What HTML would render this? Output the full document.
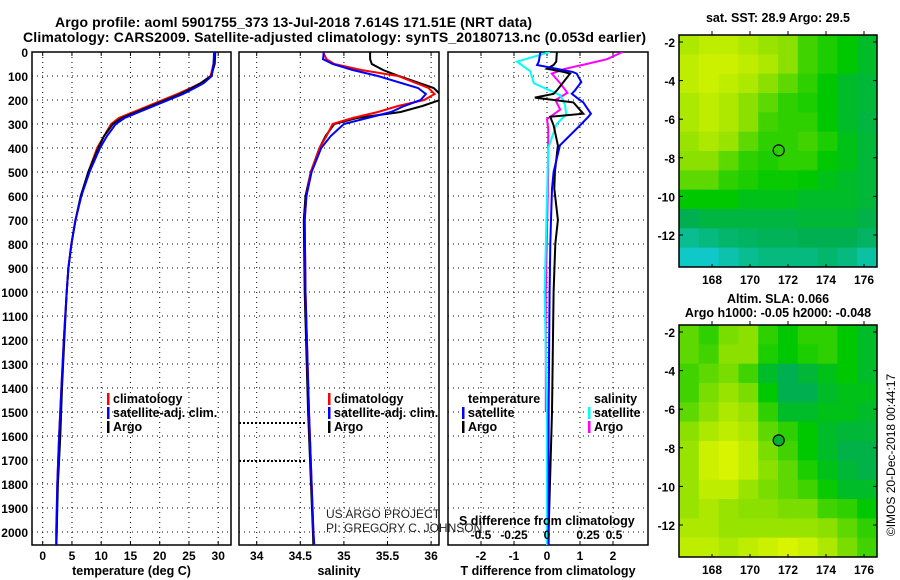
<!DOCTYPE html>
<html><head><meta charset="utf-8">
<style>
html,body{margin:0;padding:0;background:#fff;}
svg{display:block;font-family:"Liberation Sans",sans-serif;}
.b{font-weight:bold;}
</style></head>
<body>
<svg id="fig" width="900" height="580" viewBox="0 0 900 580">
<rect width="900" height="580" fill="#fff"/>
<text x="55" y="27" class="b" font-size="14" textLength="477">Argo profile: aoml 5901755_373 13-Jul-2018 7.614S 171.51E (NRT data)</text>
<text x="23" y="42" class="b" font-size="14" textLength="623">Climatology: CARS2009. Satellite-adjusted climatology: synTS_20180713.nc (0.053d earlier)</text>
<g id="p1"></g>
<g id="p2"></g>
<g id="p3"></g>
<g id="m1"></g>
<g id="m2"></g>
<text x="778" y="22" class="b" font-size="12.5" text-anchor="middle">sat. SST: 28.9 Argo: 29.5</text>
<text x="778" y="303" class="b" font-size="12.5" text-anchor="middle">Altim. SLA: 0.066</text>
<text x="778" y="317" class="b" font-size="12.5" text-anchor="middle">Argo h1000: -0.05 h2000: -0.048</text>
<text transform="translate(895,455) rotate(-90)" font-size="12" text-anchor="middle">©IMOS 20-Dec-2018 00:44:17</text>
<text x="326" y="518" font-size="12" fill="#222">US ARGO PROJECT</text>
<text x="326" y="532" font-size="12" fill="#222">PI: GREGORY C. JOHNSON</text>
</svg>
<script>
// ---------- data ----------
const depthT = [0,50,100,130,150,175,200,225,250,275,300,350,400,500,600,700,800,900,1000,1200,1400,1600,1800,2000,2060];
const tempArgo = [29.5,29.4,28.8,27,25.5,23.5,21,18.5,16,13.5,12,10.5,9.5,7.8,6.5,5.6,4.9,4.4,4.1,3.7,3.3,3.0,2.6,2.4,2.35];
const tempClim = [29.4,29.2,28.7,27,25.3,23,20.5,18,15.5,13,11.7,10.5,9.3,7.8,6.6,5.6,4.9,4.4,4.1,3.6,3.2,2.8,2.5,2.4,2.3];
const tempSat  = [29.3,29.2,28.9,27.5,26,24,21.5,19,16.5,14,12.5,11,9.8,8,6.6,5.6,4.9,4.4,4.1,3.6,3.2,2.8,2.5,2.3,2.3];
const depthS = [0,30,50,75,100,150,175,200,225,250,275,300,350,400,500,600,700,1000,1500,2000,2060];
const salArgo = [35.30,35.30,35.32,35.45,35.63,36.03,36.1,36.1,35.9,35.65,35.15,34.89,34.79,34.72,34.62,34.56,34.54,34.55,34.59,34.645,34.65];
const salClim = [34.76,34.8,34.89,35.2,35.62,35.97,36.04,35.92,35.62,35.39,35.1,34.87,34.8,34.72,34.62,34.57,34.55,34.56,34.6,34.65,34.66];
const salSat  = [34.77,34.76,34.87,35.1,35.39,35.85,35.94,35.88,35.69,35.54,35.27,35.0,34.85,34.74,34.63,34.57,34.55,34.56,34.6,34.65,34.66];
const depthD = [0,40,54,70,83,90,125,160,174,190,210,257,270,306,389,500,569,700,800,1000,1500,2000,2060];
const dTsat  = [-0.2,-0.25,-0.3,0.3,0.78,0.9,1.04,0.85,0.75,0.9,1.1,1.33,1.25,1.0,0.39,0.2,0.15,0.12,0.1,0.08,0.05,0.05,0.05];
const dTargo = [0.3,0.28,0.2,0.0,0.5,0.7,0.5,0.3,0.2,-0.37,0.8,1.1,0.1,0.2,0.33,0.24,0.22,0.33,0.25,0.2,0.15,0.05,0.05];
const depthDS = [0,40,80,130,180,220,260,300,400,600,1000,1500,2000,2060];
const dSsat  = [0.025,-0.25,-0.14,-0.11,0.11,0.15,0.16,0.08,0.01,0,-0.02,0.0,0.0,0.0];
const depthDM = [0,30,50,70,90,130,170,200,240,280,320,500,1000,1500];
const dSargo = [0.63,0.5,0.33,0.15,0.04,0.11,0.17,0.07,0.11,0,0.01,0.01,-0.01,-0.01];
const depthTicks = [0,100,200,300,400,500,600,700,800,900,1000,1100,1200,1300,1400,1500,1600,1700,1800,1900,2000];
const tTicks = [0,5,10,15,20,25,30];
const sTicks = [34,34.5,35,35.5,36];
const dTTicks = [-2,-1,0,1,2];
const dSTicks = ["-0.5","-0.25","0","0.25","0.5"];
const latTicks = [-2,-4,-6,-8,-10,-12];
const lonTicks = [168,170,172,174,176];
const sstGrid = [
[0.75,0.78,0.78,0.75,0.72,0.70,0.62,0.58,0.55,0.50],
[0.78,0.80,0.80,0.78,0.75,0.70,0.62,0.58,0.55,0.50],
[0.78,0.80,0.78,0.75,0.70,0.65,0.60,0.55,0.50,0.48],
[0.75,0.78,0.75,0.70,0.65,0.60,0.58,0.55,0.50,0.48],
[0.75,0.78,0.75,0.70,0.62,0.60,0.60,0.55,0.50,0.47],
[0.72,0.75,0.72,0.65,0.60,0.60,0.62,0.58,0.52,0.48],
[0.70,0.70,0.65,0.60,0.58,0.60,0.60,0.55,0.52,0.48],
[0.65,0.65,0.60,0.58,0.56,0.56,0.55,0.52,0.50,0.48],
[0.55,0.55,0.55,0.52,0.52,0.52,0.50,0.50,0.50,0.48],
[0.45,0.47,0.47,0.47,0.47,0.47,0.48,0.48,0.48,0.46],
[0.38,0.40,0.42,0.43,0.44,0.44,0.45,0.45,0.45,0.43],
[0.32,0.32,0.35,0.38,0.40,0.40,0.40,0.42,0.40,0.36]];
const slaGrid = [
[0.65,0.60,0.68,0.70,0.60,0.55,0.60,0.60,0.55,0.50],
[0.65,0.62,0.70,0.70,0.58,0.55,0.58,0.60,0.55,0.50],
[0.62,0.65,0.68,0.62,0.50,0.45,0.48,0.52,0.55,0.50],
[0.62,0.68,0.72,0.68,0.55,0.45,0.45,0.50,0.52,0.52],
[0.65,0.70,0.75,0.72,0.60,0.50,0.50,0.52,0.52,0.50],
[0.70,0.75,0.78,0.75,0.65,0.60,0.55,0.50,0.48,0.48],
[0.72,0.80,0.82,0.78,0.68,0.62,0.55,0.50,0.46,0.46],
[0.72,0.80,0.82,0.78,0.70,0.65,0.58,0.52,0.48,0.46],
[0.72,0.78,0.78,0.72,0.68,0.65,0.62,0.56,0.50,0.50],
[0.72,0.75,0.72,0.70,0.70,0.68,0.68,0.62,0.60,0.55],
[0.75,0.75,0.72,0.72,0.72,0.72,0.72,0.70,0.65,0.60],
[0.78,0.78,0.75,0.78,0.80,0.82,0.80,0.75,0.68,0.62]];

// ---------- helpers ----------
const NS="http://www.w3.org/2000/svg";
function mk(parent,tag,attrs){const e=document.createElementNS(NS,tag);for(const k in attrs)e.setAttribute(k,attrs[k]);parent.appendChild(e);return e;}
const TOP=52, BOT=545;
const yD = d => TOP + d*0.24;
const xT = t => 42.7 + t*5.85;
const xS = s => 256.7 + (s-34)*87.2;
const xDT = v => 547 + v*33;
const xDS = v => 547 + v*120;
const lonX = (lon,x0) => x0 + 33 + (lon-168)*19;
const latY = (lat,y0) => y0 + (-2-lat)*19.3;

function frame(g,x0,x1,xt,labels,fn,title,showDepth){
  const clip = mk(g,'clipPath',{id:'c'+x0}); mk(clip,'rect',{x:x0,y:TOP,width:x1-x0,height:BOT-TOP});
  depthTicks.forEach(d=>{
    const l=mk(g,'line',{x1:x0,x2:x1,y1:yD(d),y2:yD(d),stroke:'#000','stroke-width':1,'stroke-dasharray':'1,4'});
    
    
    if(showDepth){
      const t=mk(g,'text',{x:28,y:yD(d)+5,'text-anchor':'end','font-size':12,'font-weight':'bold'});
      t.textContent=d;
      
      
    }
  });
  xt.forEach((v,i)=>{
    const x=fn(v);
    const l=mk(g,'line',{x1:x,x2:x,y1:TOP,y2:BOT,stroke:'#000','stroke-width':1,'stroke-dasharray':'1,4'});
    
    
    mk(g,'line',{x1:x,x2:x,y1:TOP,y2:TOP+4,stroke:'#000'});
    mk(g,'line',{x1:x,x2:x,y1:BOT,y2:BOT-4,stroke:'#000'});
    if(labels){
      const t=mk(g,'text',{x:x,y:560,'text-anchor':'middle','font-size':12,'font-weight':'bold'});
      t.textContent=labels[i];
      
      
    }
  });
  const r=mk(g,'rect',{x:x0,y:TOP,width:x1-x0,height:BOT-TOP,fill:'none',stroke:'#000','stroke-width':1.5});
  
  
  const tt=mk(g,'text',{x:(x0+x1)/2,y:575,'text-anchor':'middle','font-size':12.5,'font-weight':'bold'});
  tt.textContent=title;
  
  
}
function line(g,xs,ds,fx,color,name,x0){
  const pts=xs.map((v,i)=>fx(v).toFixed(1)+','+yD(ds[i]).toFixed(1)).join(' ');
  const p=mk(g,'polyline',{points:pts,fill:'none',stroke:color,'stroke-width':2,'clip-path':'url(#c'+x0+')'});
  
  
}
function legend(g,x,y,items){
  items.forEach((it,i)=>{
    if(it[1]) mk(g,'rect',{x:x,y:y+i*14-10,width:2.5,height:12,fill:it[1]});
    const t=mk(g,'text',{x:x+6,y:y+i*14,'font-size':12.5,'font-weight':'bold'});
    t.textContent=it[0];
    
    
  });
}

// panel 1
const p1=document.getElementById('p1');
frame(p1,32,231,tTicks,tTicks,xT,'temperature (deg C)',true);
line(p1,tempClim,depthT,xT,'#f00','temp-climatology-line',32);
line(p1,tempArgo,depthT,xT,'#000','temp-argo-line',32);
line(p1,tempSat,depthT,xT,'#00f','temp-satellite-line',32);
legend(p1,107,403,[['climatology','#f00'],['satellite-adj. clim.','#00f'],['Argo','#000']]);

// panel 2
const p2=document.getElementById('p2');
frame(p2,239,439,sTicks,sTicks,xS,'salinity',false);
[1546,1704].forEach(d=>{const l=mk(p2,'line',{x1:239,x2:305,y1:yD(d),y2:yD(d),stroke:'#000','stroke-width':2,'stroke-dasharray':'2,2'});

});
line(p2,salArgo,depthS,xS,'#000','sal-argo-line',239);
line(p2,salClim,depthS,xS,'#f00','sal-climatology-line',239);
line(p2,salSat,depthS,xS,'#00f','sal-satellite-line',239);
legend(p2,328,403,[['climatology','#f00'],['satellite-adj. clim.','#00f'],['Argo','#000']]);

// panel 3
const p3=document.getElementById('p3');
frame(p3,448,648,dTTicks,dTTicks,xDT,'T difference from climatology',false);
line(p3,dSargo,depthDM,xDS,'#f0f','sdiff-argo-line',448);
line(p3,dSsat,depthDS,xDS,'#0ff','sdiff-satellite-line',448);
line(p3,dTargo,depthD,xDT,'#000','tdiff-argo-line',448);
line(p3,dTsat,depthD,xDT,'#00f','tdiff-satellite-line',448);
legend(p3,462,403,[['temperature',null],['satellite','#00f'],['Argo','#000']]);
legend(p3,588,403,[['salinity',null],['satellite','#0ff'],['Argo','#f0f']]);
const st=mk(p3,'text',{x:459,y:525,'font-size':12.5,'font-weight':'bold'});
st.textContent='S difference from climatology';


const sPos=[481,514,547,588,614];
dSTicks.forEach((s,i)=>{const t=mk(p3,'text',{x:sPos[i],y:539,'text-anchor':'middle','font-size':12,'font-weight':'bold'});
t.textContent=s;

});

// maps
function pal(v){
  const stops=[[0.2,[0,40,200]],[0.32,[16,200,200]],[0.45,[0,176,80]],[0.55,[0,200,0]],[0.7,[140,224,0]],[0.82,[216,244,0]],[1,[255,160,0]]];
  for(let i=1;i<stops.length;i++){if(v<=stops[i][0]){const a=stops[i-1],b=stops[i],f=(v-a[0])/(b[0]-a[0]);
    return 'rgb('+a[1].map((c,j)=>Math.round(c+(b[1][j]-c)*f)).join(',')+')';}}
  return 'rgb(255,160,0)';
}
function map(id,grid,y0,y1,filled){
  const g=document.getElementById(id), x0=679, x1=877;
  const rows=grid.length, cols=grid[0].length, cw=(x1-x0)/cols, ch=(y1-y0)/rows;
  grid.forEach((row,r)=>row.forEach((v,c)=>{
    const cell=mk(g,'rect',{x:x0+c*cw,y:y0+r*ch,width:cw+0.5,height:ch+0.5,fill:pal(v)});
    
    
  }));
  const fr=mk(g,'rect',{x:x0,y:y0,width:x1-x0,height:y1-y0,fill:'none',stroke:'#000','stroke-width':1.5});
  
  
  latTicks.forEach(l=>{const y=latY(l,y0+7);
    mk(g,'line',{x1:x1,x2:x1-4,y1:y,y2:y,stroke:'#000'});
    mk(g,'line',{x1:x0,x2:x0+4,y1:y,y2:y,stroke:'#000'});
    const t=mk(g,'text',{x:675,y:y+5,'text-anchor':'end','font-size':12,'font-weight':'bold'});
    t.textContent=l;
    
    });
  lonTicks.forEach(l=>{const x=lonX(l,x0);
    mk(g,'line',{x1:x,x2:x,y1:y0,y2:y0-4,stroke:'#000'});
    mk(g,'line',{x1:x,x2:x,y1:y1,y2:y1-3,stroke:'#000'});
    const t=mk(g,'text',{x:x,y:y1+17,'text-anchor':'middle','font-size':12,'font-weight':'bold'});
    t.textContent=l;
    
    });
  const c=mk(g,'circle',{cx:lonX(171.51,x0),cy:latY(-7.614,y0+7),r:5.5,fill:filled?'#00b030':'none',stroke:'#000','stroke-width':1.2});
  
  
}
map('m1',sstGrid,35,267,false);
map('m2',slaGrid,325,557,true);
</script>
</body></html>
